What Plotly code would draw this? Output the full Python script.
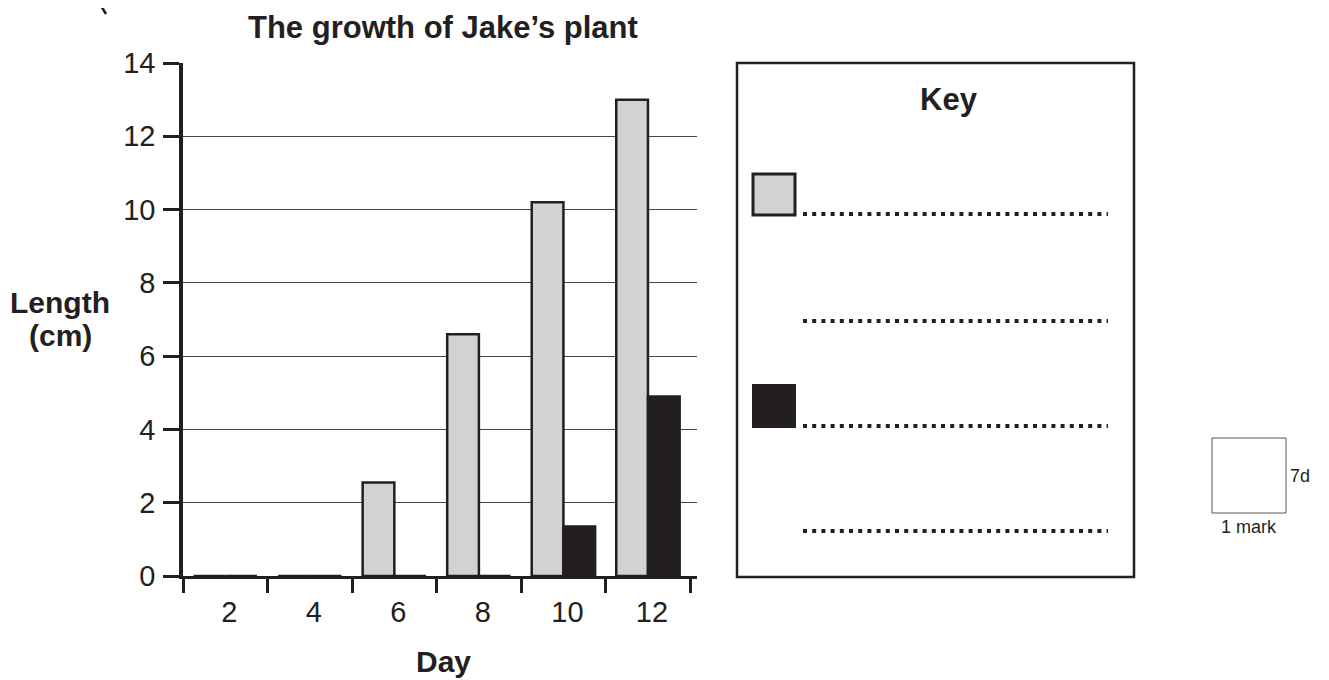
import plotly.graph_objects as go

days = ["2", "4", "6", "8", "10", "12"]
grey_series = [0, 0, 2.55, 6.6, 10.2, 13.0]
black_series = [0, 0, 0, 0, 1.35, 4.9]
y_ticks = [0, 2, 4, 6, 8, 10, 12, 14]

W, H = 1329, 680
OFF = 8  # page body margin
L, R, T, B = 183, 697, 63, 576
DARK = "#231f20"
GREY = "#d1d2d4"
FONT = "Liberation Sans"


def px(x):
    return (x - L) / (R - L)


def py(y):
    return (B - y) / (B - T)


fig = go.Figure()
fig.add_trace(go.Bar(x=days, y=grey_series, marker=dict(color=GREY, line=dict(color=DARK, width=2.5)), showlegend=False))
fig.add_trace(go.Bar(x=days, y=black_series, marker=dict(color=DARK, line=dict(color=DARK, width=2.5)), showlegend=False))

shapes = []
shapes.append(dict(type="rect", xref="paper", yref="paper", x0=px(737), x1=px(1134), y0=py(577), y1=py(63),
                   line=dict(color=DARK, width=2.5), fillcolor="rgba(0,0,0,0)"))
shapes.append(dict(type="rect", xref="paper", yref="paper", x0=px(753), x1=px(795), y0=py(215), y1=py(174),
                   line=dict(color=DARK, width=3), fillcolor=GREY))
shapes.append(dict(type="rect", xref="paper", yref="paper", x0=px(752), x1=px(796), y0=py(428), y1=py(384),
                   line=dict(color=DARK, width=0), fillcolor=DARK))
for yy in [214, 321, 426, 531]:
    shapes.append(dict(type="line", xref="paper", yref="paper", x0=px(803), x1=px(1108), y0=py(yy), y1=py(yy),
                       line=dict(color=DARK, width=4, dash="4px,5.2px")))
shapes.append(dict(type="rect", xref="paper", yref="paper", x0=px(1212), x1=px(1286), y0=py(513), y1=py(438),
                   line=dict(color="#555555", width=1), fillcolor="rgba(0,0,0,0)"))
shapes.append(dict(type="path", xref="paper", yref="paper",
                   path=f"M {px(97)} {py(0)} L {px(103)} {py(9)} L {px(106)} {py(14)}",
                   line=dict(color=DARK, width=2.5)))


def label(text, x, y, size, xanchor="center"):
    return dict(text=text, x=px(x), y=py(y), xref="paper", yref="paper", xanchor=xanchor, yanchor="middle",
                showarrow=False, font=dict(size=size, color=DARK, family=FONT))


annotations = [
    label("<b>The growth of Jake’s plant</b>", 443, 27, 31),
    label("<b>Length</b>", 60, 302, 30),
    label("<b>(cm)</b>", 60, 335, 30),
    label("<b>Day</b>", 443, 661, 30),
    label("<b>Key</b>", 949, 99, 31),
    label("7d", 1288, 476, 18, xanchor="left"),
    label("1 mark", 1249, 527, 18),
]

fig.update_layout(
    width=W, height=H,
    margin=dict(l=L - OFF, r=W - R + OFF, t=T - OFF, b=H - B + OFF, pad=0),
    paper_bgcolor="white", plot_bgcolor="white",
    barmode="group", bargap=0.25, bargroupgap=0,
    shapes=shapes, annotations=annotations,
    font=dict(family=FONT, color=DARK),
    xaxis=dict(type="category", range=[-0.5, 5.58], tickson="boundaries", ticks="outside", ticklen=14,
               tickwidth=2.5, tickcolor=DARK, showline=True, linecolor=DARK, linewidth=3,
               showgrid=False, ticklabelstandoff=8, ticklabelshift=4,
               tickfont=dict(size=29, family=FONT, color=DARK), fixedrange=True),
    yaxis=dict(range=[0, 14], tickvals=y_ticks, ticks="outside", ticklen=16, tickwidth=2.5, tickcolor=DARK,
               showline=True, linecolor=DARK, linewidth=3.5, showgrid=True, gridcolor="#444444", gridwidth=1,
               zeroline=False, ticklabelstandoff=2,
               tickfont=dict(size=29, family=FONT, color=DARK), fixedrange=True),
)

fig.write_html("out.html")
